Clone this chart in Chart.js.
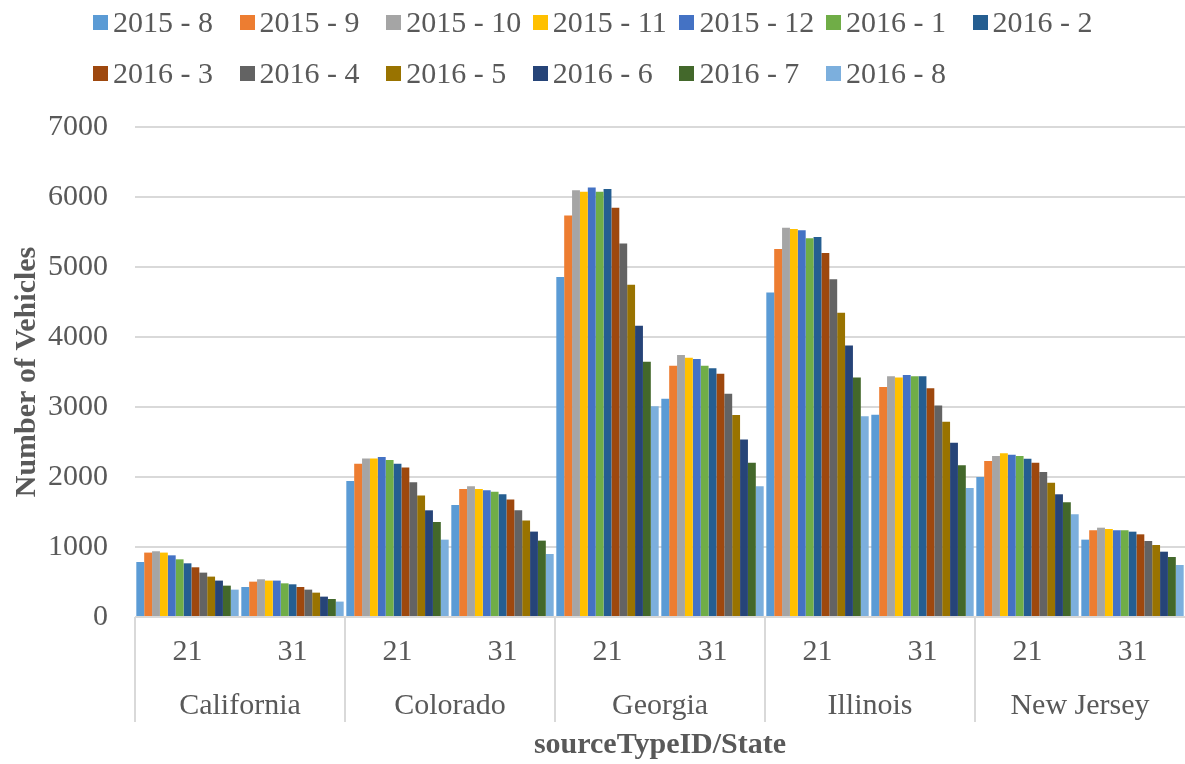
<!DOCTYPE html>
<html lang="en">
<head>
  <meta charset="UTF-8" />
  <title>Number of Vehicles by sourceTypeID/State</title>
  <script src="https://cdn.jsdelivr.net/npm/chart.js"></script>
  <style>
    body {
      margin: 0;
      background: #ffffff;
      font-family: "Liberation Serif", "Times New Roman", serif;
    }
    .wrap {
      position: relative;
      width: 1185px;
      height: 764px;
    }
    #legend {
      position: absolute;
      left: 93px;
      top: 0;
      display: grid;
      grid-template-columns: repeat(7, 146.6px);
      grid-auto-rows: 51px;
    }
    .item {
      display: flex;
      align-items: center;
      height: 44px;
      font-size: 30px;
      color: #595959;
      white-space: nowrap;
    }
    .box {
      width: 15px;
      height: 15px;
      margin-right: 5px;
      flex: none;
    }
  </style>
</head>
<body>
  <div class="wrap">
    <canvas id="chart" width="1185" height="764"></canvas>
    <div id="legend"></div>
  </div>

  <script>
    const states = ['California', 'Colorado', 'Georgia', 'Illinois', 'New Jersey'];
    const sourceTypes = ['21', '31'];

    // order: CA 21, CA 31, CO 21, CO 31, GA 21, GA 31, IL 21, IL 31, NJ 21, NJ 31
    const aug2015 = [786, 429, 1943, 1600, 4857, 3119, 4634, 2891, 2000, 1105];
    const sep2015 = [920, 505, 2191, 1829, 5734, 3591, 5257, 3286, 2229, 1238];
    const oct2015 = [939, 539, 2263, 1867, 6096, 3743, 5562, 3439, 2300, 1276];
    const nov2015 = [920, 520, 2263, 1829, 6076, 3705, 5543, 3420, 2338, 1257];
    const dec2015 = [881, 520, 2286, 1810, 6134, 3686, 5524, 3457, 2319, 1238];
    const jan2016 = [824, 481, 2243, 1791, 6076, 3591, 5410, 3439, 2300, 1238];
    const feb2016 = [767, 467, 2191, 1753, 6114, 3553, 5429, 3439, 2262, 1219];
    const mar2016 = [710, 429, 2134, 1677, 5848, 3476, 5200, 3267, 2205, 1181];
    const apr2016 = [634, 391, 1924, 1524, 5334, 3191, 4824, 3020, 2072, 1086];
    const may2016 = [577, 348, 1734, 1377, 4748, 2886, 4348, 2791, 1919, 1029];
    const jun2016 = [520, 291, 1524, 1220, 4162, 2534, 3877, 2491, 1753, 933];
    const jul2016 = [448, 257, 1357, 1091, 3648, 2205, 3420, 2167, 1638, 857];
    const aug2016 = [391, 220, 1105, 900, 3010, 1867, 2867, 1843, 1467, 743];

    const seriesNames = ['2015 - 8', '2015 - 9', '2015 - 10', '2015 - 11', '2015 - 12', '2016 - 1', '2016 - 2',
                         '2016 - 3', '2016 - 4', '2016 - 5', '2016 - 6', '2016 - 7', '2016 - 8'];
    const seriesValues = [aug2015, sep2015, oct2015, nov2015, dec2015, jan2016, feb2016,
                          mar2016, apr2016, may2016, jun2016, jul2016, aug2016];
    const colors = ['#5B9BD5', '#ED7D31', '#A5A5A5', '#FFC000', '#4472C4', '#70AD47', '#255E91',
                    '#9E480E', '#636363', '#997300', '#264478', '#43682B', '#7CAFDD'];

    const yTicks = [0, 1000, 2000, 3000, 4000, 5000, 6000, 7000];

    const font = 'Liberation Serif';
    const textColor = '#595959';
    const gridColor = '#D9D9D9';

    // one category per state/sourceType pair
    const labels = states.flatMap(() => sourceTypes);

    const datasets = seriesNames.map((name, i) => ({
      label: name,
      data: seriesValues[i],
      backgroundColor: colors[i],
      borderWidth: 0,
      barPercentage: 1,
      categoryPercentage: 0.975
    }));

    // legend in Excel-like grid
    const legendEl = document.getElementById('legend');
    seriesNames.forEach((name, i) => {
      const item = document.createElement('div');
      item.className = 'item';
      item.innerHTML = '<span class="box" style="background:' + colors[i] + '"></span>' + name;
      legendEl.appendChild(item);
    });

    new Chart(document.getElementById('chart'), {
      type: 'bar',
      data: { labels, datasets },
      options: {
        responsive: false,
        animation: false,
        layout: { padding: { top: 127, left: 0, right: 0, bottom: 1 } },
        plugins: {
          legend: { display: false },
          tooltip: { enabled: false }
        },
        scales: {
          x: {
            offset: true,
            weight: 0,
            afterFit: scale => { scale.height = 60; },
            grid: {
              offset: true,
              drawOnChartArea: false,
              tickLength: 105,
              lineWidth: 2,
              // only the state boundaries get a separator
              color: ctx => (ctx.index % 2 === 0 ? gridColor : 'rgba(0,0,0,0)')
            },
            border: { display: false },
            ticks: {
              padding: -88,
              maxRotation: 0,
              autoSkip: false,
              color: textColor,
              font: { family: font, size: 30 }
            }
          },
          x2: {
            type: 'category',
            position: 'bottom',
            labels: states,
            offset: true,
            weight: 1,
            afterFit: scale => { scale.height = 86; },
            grid: { display: false, drawTicks: false },
            border: { display: false },
            ticks: {
              padding: 11,
              maxRotation: 0,
              autoSkip: false,
              color: textColor,
              font: { family: font, size: 30 }
            },
            title: {
              display: true,
              text: 'sourceTypeID/State',
              color: textColor,
              padding: { top: 0, bottom: 0 },
              font: { family: font, size: 30, weight: 'bold' }
            }
          },
          y: {
            min: 0,
            max: 7000,
            afterFit: scale => { scale.width = 135; },
            afterBuildTicks: scale => { scale.ticks = yTicks.map(v => ({ value: v })); },
            grid: {
              drawTicks: false,
              lineWidth: 2,
              color: gridColor
            },
            border: { display: false },
            ticks: {
              padding: 27,
              color: textColor,
              font: { family: font, size: 30 },
              callback: v => String(v)
            },
            title: {
              display: true,
              text: 'Number of Vehicles',
              color: textColor,
              padding: { top: 9, bottom: 0 },
              font: { family: font, size: 30, weight: 'bold' }
            }
          }
        }
      }
    });
  </script>
</body>
</html>
